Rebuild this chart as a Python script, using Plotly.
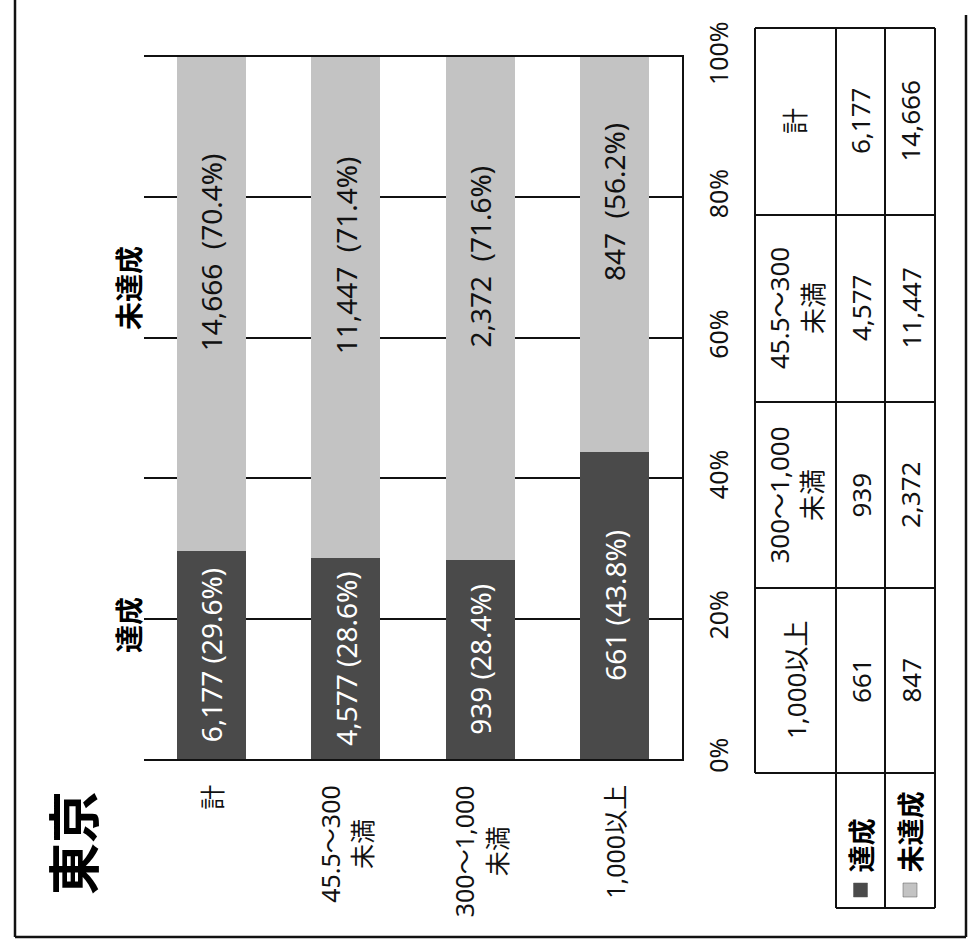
import plotly.graph_objects as go

W, H = 969, 945

# ---- data ----
title_text = "東京"
categories = ["計", "45.5〜300<br>未満", "300〜1,000<br>未満", "1,000以上"]
series_names = ["達成", "未達成"]
achieved = [6177, 4577, 939, 661]
not_achieved = [14666, 11447, 2372, 847]
pct_achieved = [29.6, 28.6, 28.4, 43.8]
pct_not = [70.4, 71.4, 71.6, 56.2]
percent_ticks = [0, 20, 40, 60, 80, 100]
percent_tick_labels = ["0%", "20%", "40%", "60%", "80%", "100%"]

# ---- style ----
FONT = "Noto Sans, Noto Sans CJK JP, sans-serif"
DARK = "#4a4a4a"
LIGHT = "#c3c3c3"
INK = "#111111"


def X(px):
    return px / W


def Y(py):
    return 1 - py / H


fig = go.Figure()

fig.add_trace(go.Bar(
    x=categories, y=pct_achieved, name=series_names[0],
    marker=dict(color=DARK, line=dict(width=0)),
    text=[f"{v:,} ({p:.1f}%)" for v, p in zip(achieved, pct_achieved)],
    textposition="inside", insidetextanchor="middle", textangle=-90,
    constraintext="none",
    textfont=dict(color="white", size=28, family=FONT),
    showlegend=False,
))
fig.add_trace(go.Bar(
    x=categories, y=pct_not, name=series_names[1],
    marker=dict(color=LIGHT, line=dict(width=0)),
    showlegend=False,
))

annotations = []

# labels for the light segments
for c, a, v, p in zip(categories, pct_achieved, not_achieved, pct_not):
    annotations.append(dict(
        x=c, y=a + p / 2, xref="x", yref="y", yshift=52,
        text=f"{v:,}\u00a0\u00a0({p:.1f}%)", showarrow=False, textangle=-90,
        xanchor="center", yanchor="middle",
        font=dict(size=28, color="#111", family=FONT),
    ))

# category labels under the bars
for c in categories:
    annotations.append(dict(
        x=c, y=Y(783), xref="x", yref="paper",
        text=c, showarrow=False, textangle=-90, align="center",
        xanchor="center", yanchor="top",
        font=dict(size=25, color="#111", family=FONT),
    ))

# title
annotations.append(dict(
    x=X(73), y=Y(843), xref="paper", yref="paper", text=f"<b>{title_text}</b>",
    showarrow=False, textangle=-90, xanchor="center", yanchor="middle",
    font=dict(size=52, color="#000", family=FONT),
))

# series headings
annotations.append(dict(
    x=X(129), y=Y(625), xref="paper", yref="paper", text=f"<b>{series_names[0]}</b>",
    showarrow=False, textangle=-90, xanchor="center", yanchor="middle",
    font=dict(size=28, color="#000", family=FONT),
))
annotations.append(dict(
    x=X(129), y=Y(288), xref="paper", yref="paper", text=f"<b>{series_names[1]}</b>",
    showarrow=False, textangle=-90, xanchor="center", yanchor="middle",
    font=dict(size=28, color="#000", family=FONT),
))

# ---- data table (rotated) ----
col_edges = [28, 215, 402, 588, 773]          # order: 計, 45.5〜300, 300〜1,000, 1,000以上
hdr_x0, row1_x, row2_x, tbl_x1 = 755, 836, 885, 935
leg_y1 = 908
shapes = []
lw = 2


def line(x0, y0, x1, y1, width=lw):
    shapes.append(dict(type="line", xref="paper", yref="paper",
                       x0=X(x0), y0=Y(y0), x1=X(x1), y1=Y(y1),
                       line=dict(color=INK, width=width)))


for ye in col_edges:
    line(hdr_x0, ye, tbl_x1, ye)
line(row1_x, leg_y1, tbl_x1, leg_y1)
line(hdr_x0, col_edges[0], hdr_x0, col_edges[-1])
for xe in (row1_x, row2_x, tbl_x1):
    line(xe, col_edges[0], xe, leg_y1)

for i, c in enumerate(categories):
    yc = (col_edges[i] + col_edges[i + 1]) / 2
    annotations.append(dict(
        x=X((hdr_x0 + row1_x) / 2), y=Y(yc), xref="paper", yref="paper",
        text=c, showarrow=False, textangle=-90, align="center",
        xanchor="center", yanchor="middle",
        font=dict(size=26, color="#111", family=FONT)))
    annotations.append(dict(
        x=X((row1_x + row2_x) / 2), y=Y(yc), xref="paper", yref="paper",
        text=f"{achieved[i]:,}", showarrow=False, textangle=-90,
        xanchor="center", yanchor="middle",
        font=dict(size=26, color="#111", family=FONT)))
    annotations.append(dict(
        x=X((row2_x + tbl_x1) / 2), y=Y(yc), xref="paper", yref="paper",
        text=f"{not_achieved[i]:,}", showarrow=False, textangle=-90,
        xanchor="center", yanchor="middle",
        font=dict(size=26, color="#111", family=FONT)))

# legend keys inside the table
for (x0, x1), name, col in (((row1_x, row2_x), series_names[0], DARK),
                             ((row2_x, tbl_x1), series_names[1], LIGHT)):
    xc = (x0 + x1) / 2
    shapes.append(dict(type="rect", xref="paper", yref="paper",
                       x0=X(xc - 7), x1=X(xc + 7), y0=Y(897), y1=Y(883),
                       fillcolor=col, line=dict(color="#555", width=0.5)))
    annotations.append(dict(
        x=X(xc), y=Y(875), xref="paper", yref="paper",
        text=f"<b>{name}</b>", showarrow=False, textangle=-90,
        xanchor="center", yanchor="bottom",
        font=dict(size=27, color="#000", family=FONT)))

# outer frame of the scanned page
line(15, 0, 15, 937, 2.5)
line(15, 937, 966, 937, 2.5)
line(966, 15, 966, 937, 2.5)

fig.update_layout(
    width=W, height=H,
    margin=dict(l=0, r=0, t=0, b=0, autoexpand=False),
    paper_bgcolor="white", plot_bgcolor="white",
    barmode="stack", bargap=0.487,
    font=dict(family=FONT, color="#111"),
    annotations=annotations, shapes=shapes,
    xaxis=dict(domain=[X(144), X(682)], showticklabels=False, ticks="",
               showline=True, mirror=True, linecolor=INK, linewidth=2,
               showgrid=False, fixedrange=True, automargin=False),
    yaxis=dict(domain=[Y(759), Y(57)], range=[0, 100], side="right",
               tickvals=percent_ticks, ticktext=percent_tick_labels,
               tickangle=-90, tickfont=dict(size=25, color="#111", family=FONT),
               showgrid=True, gridcolor=INK, gridwidth=1.5,
               showline=True, linecolor=INK, linewidth=2,
               zeroline=False, ticks="", ticklabelstandoff=14,
               automargin=False),
)

fig.write_html("out.html")
